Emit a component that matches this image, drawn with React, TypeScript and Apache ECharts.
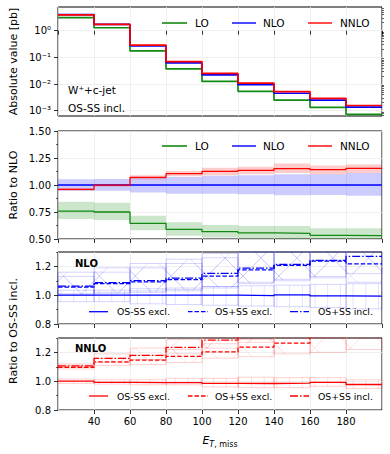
import React, { useEffect, useRef } from 'react';
import * as echarts from 'echarts';

// ---------- data ----------
const binEdges = [20, 40, 60, 80, 100, 120, 140, 160, 180, 200];
const logTickExponents = [-3, -2, -1, 0];
const logTickLabels = ['10⁻³', '10⁻²', '10⁻¹', '10⁰'];
const osTicks = [0.8, 1.0, 1.2];

// Panel 1: absolute values [pb]
const absLO = [3.1, 1.29, 0.175, 0.037, 0.0125, 0.0053, 0.0025, 0.00133, 0.00072];
const absNLO = [4.05, 1.72, 0.27, 0.062, 0.022, 0.0095, 0.0045, 0.0025, 0.00135];
const absNNLO = [3.9, 1.72, 0.29, 0.069, 0.025, 0.0108, 0.0052, 0.0029, 0.00156];

// Panel 2: ratio to NLO
const ratioLO = [0.759, 0.75, 0.645, 0.59, 0.568, 0.556, 0.553, 0.534, 0.531];
const ratioNLO = [1, 1, 1, 1, 1, 1, 1, 1, 1];
const ratioNNLO = [0.96, 0.998, 1.071, 1.105, 1.127, 1.136, 1.151, 1.142, 1.154];
const bandLOLo = [0.685, 0.675, 0.58, 0.53, 0.515, 0.505, 0.5, 0.49, 0.49];
const bandLOHi = [0.845, 0.835, 0.715, 0.655, 0.63, 0.62, 0.62, 0.6, 0.6];
const bandNLOLo = [0.947, 0.947, 0.93, 0.92, 0.92, 0.914, 0.905, 0.908, 0.9];
const bandNLOHi = [1.053, 1.055, 1.065, 1.075, 1.085, 1.09, 1.1, 1.1, 1.11];
const bandNNLOLo = [0.95, 0.985, 1.05, 1.08, 1.09, 1.1, 1.11, 1.1, 1.11];
const bandNNLOHi = [0.97, 1.01, 1.09, 1.13, 1.16, 1.17, 1.2, 1.18, 1.19];

// Panel 3: NLO ratio to OS-SS incl.
const nloOSmSSExcl = [1.0, 1.0, 1.0, 1.0, 1.0, 0.997, 1.002, 0.995, 0.993];
const nloOSpSSExcl = [1.056, 1.08, 1.092, 1.108, 1.133, 1.176, 1.207, 1.237, 1.218];
const nloOSpSSIncl = [1.063, 1.087, 1.101, 1.118, 1.152, 1.188, 1.214, 1.242, 1.27];
const nloOSmSSExclLo = [0.955, 0.955, 0.94, 0.935, 0.93, 0.925, 0.92, 0.915, 0.905];
const nloOSmSSExclHi = [1.035, 1.035, 1.045, 1.05, 1.06, 1.065, 1.07, 1.075, 1.08];
const nloOSpSSExclLo = [1.0, 1.01, 1.02, 1.03, 1.05, 1.08, 1.1, 1.12, 1.09];
const nloOSpSSExclHi = [1.13, 1.16, 1.19, 1.22, 1.26, 1.3, 1.33, 1.36, 1.34];
const nloOSpSSInclLo = [1.01, 1.02, 1.03, 1.04, 1.06, 1.09, 1.11, 1.13, 1.15];
const nloOSpSSInclHi = [1.16, 1.19, 1.22, 1.25, 1.29, 1.33, 1.36, 1.39, 1.42];

// Panel 4: NNLO ratio to OS-SS incl.
const nnloOSmSSExcl = [1.0, 0.992, 0.99, 0.99, 0.985, 0.984, 0.986, 0.992, 0.977];
const nnloOSpSSExcl = [1.097, 1.134, 1.146, 1.172, 1.203, 1.237, 1.265, 1.31, 1.33];
const nnloOSpSSIncl = [1.106, 1.158, 1.18, 1.235, 1.285, 1.33, 1.36, 1.39, 1.42];
const nnloOSmSSExclLo = [0.985, 0.98, 0.975, 0.975, 0.96, 0.955, 0.955, 0.965, 0.95];
const nnloOSmSSExclHi = [1.015, 1.01, 1.01, 1.02, 1.02, 1.028, 1.025, 1.025, 1.01];
const nnloOSpSSExclLo = [1.085, 1.11, 1.115, 1.13, 1.16, 1.17, 1.19, 1.2, 1.22];
const nnloOSpSSExclHi = [1.11, 1.16, 1.18, 1.22, 1.26, 1.29, 1.33, 1.38, 1.41];
const nnloOSpSSInclLo = [1.095, 1.13, 1.15, 1.19, 1.23, 1.27, 1.3, 1.33, 1.35];
const nnloOSpSSInclHi = [1.12, 1.19, 1.23, 1.29, 1.35, 1.39, 1.43, 1.46, 1.5];

// ---------- styling ----------
const FONT = 'DejaVu Sans';
const GREEN = '#118a11';
const BLUE = '#0000ff';
const RED = '#ff0000';
const DASH = [4.5, 2];
const DASHDOT = [8, 2, 1.5, 2];
const LOG_MIN = -3.2;
const LOG_MAX = 0.89;

const stepData = (vals: number[]) =>
  binEdges.map((x, i) => [x, vals[Math.min(i, vals.length - 1)]]);
const bandData = (lo: number[], hi: number[]) =>
  lo.map((l, i) => [binEdges[i], binEdges[i + 1], l, hi[i]]);

function clampBox(params: any, api: any) {
  const cs = params.coordSys;
  const a = api.coord([api.value(0), api.value(3)]);
  const b = api.coord([api.value(1), api.value(2)]);
  const x0 = Math.min(a[0], b[0]);
  const x1 = Math.max(a[0], b[0]);
  const y0 = Math.max(Math.min(a[1], b[1]), cs.y);
  const y1 = Math.min(Math.max(a[1], b[1]), cs.y + cs.height);
  return { x0, x1, y0, y1 };
}

const fillRenderer = (color: string) => (params: any, api: any) => {
  const { x0, x1, y0, y1 } = clampBox(params, api);
  if (y1 <= y0) return { type: 'group', children: [] };
  return {
    type: 'rect',
    shape: { x: x0, y: y0, width: x1 - x0, height: y1 - y0 },
    style: { fill: color },
  };
};

const hatchRenderer = (kind: string, color: string, edge: string) => (params: any, api: any) => {
  const { x0, x1, y0, y1 } = clampBox(params, api);
  if (y1 <= y0) return { type: 'group', children: [] };
  const seg = (ax: number, ay: number, bx: number, by: number) => ({
    type: 'line',
    shape: { x1: ax, y1: ay, x2: bx, y2: by },
    style: { stroke: color, lineWidth: 0.9 },
  });
  const children: any[] = [
    {
      type: 'rect',
      shape: { x: x0, y: y0, width: x1 - x0, height: y1 - y0 },
      style: { fill: 'none', stroke: edge, lineWidth: 1 },
    },
  ];
  if (kind === '|') {
    const s = 12.7;
    const off = 10.2;
    for (let x = off + Math.ceil((x0 - off) / s) * s; x < x1; x += s) {
      if (x > x0 + 0.5) children.push(seg(x, y0, x, y1));
    }
  } else {
    const P = 35.9;
    const offA = 16.3;
    const offB = 33;
    for (let c = offA + Math.ceil((x0 + y0 - offA) / P) * P; c <= x1 + y1; c += P) {
      const xs = Math.max(x0, c - y1);
      const xe = Math.min(x1, c - y0);
      if (xe > xs) children.push(seg(xs, c - xs, xe, c - xe));
    }
    for (let c = offB + Math.ceil((y0 - x1 - offB) / P) * P; c <= y1 - x0; c += P) {
      const xs = Math.max(x0, y0 - c);
      const xe = Math.min(x1, y1 - c);
      if (xe > xs) children.push(seg(xs, xs + c, xe, xe + c));
    }
  }
  return { type: 'group', children };
};

function lineSeries(name: string, vals: number[], grid: number, color: string, width: number, dash?: number[], z = 5) {
  return {
    name,
    type: 'line',
    xAxisIndex: grid,
    yAxisIndex: grid,
    step: 'end',
    data: stepData(vals),
    symbol: 'none',
    showSymbol: false,
    silent: true,
    z,
    lineStyle: { color, width, type: dash ? dash : 'solid' },
    itemStyle: { color },
  };
}

function bandSeries(lo: number[], hi: number[], grid: number, renderItem: any, z = 2) {
  return {
    type: 'custom',
    xAxisIndex: grid,
    yAxisIndex: grid,
    data: bandData(lo, hi),
    renderItem,
    encode: { x: [0, 1], y: [2, 3] },
    silent: true,
    z,
  };
}

function text(str: string, x: number, y: number, size: number, opts: any = {}) {
  return {
    type: 'text',
    x,
    y,
    rotation: opts.rotation || 0,
    silent: true,
    z: 100,
    style: {
      text: str,
      fill: '#000',
      fontSize: size,
      fontFamily: FONT,
      fontWeight: opts.weight || 'normal',
      align: opts.align || 'left',
      verticalAlign: 'middle',
      textAlign: opts.align || 'left',
      textVerticalAlign: 'middle',
    },
  };
}

function legendItems(items: any[], y: number, size: number, lw: number) {
  const out: any[] = [];
  items.forEach((it) => {
    out.push({
      type: 'line',
      silent: true,
      z: 100,
      shape: { x1: it.x1, y1: y, x2: it.x2, y2: y },
      style: { stroke: it.color, lineWidth: lw, lineDash: it.dash || null, opacity: it.opacity || 1 },
    });
    out.push(text(it.label, it.tx, y, size));
  });
  return out;
}

function buildOption() {
  const tick = { show: true, length: 4, lineStyle: { color: '#000', width: 0.8 } };
  const split = { show: true, lineStyle: { color: '#ebebeb', width: 0.8 } };
  const label = { color: '#000', fontSize: 10, fontFamily: FONT, margin: 7 };
  const minor = { show: true, splitNumber: 2, length: 2, lineStyle: { color: '#000', width: 0.6 } };

  const minorLog: number[] = [];
  for (let n = -4; n <= 0; n++) {
    for (let k = 2; k <= 9; k++) {
      const v = Math.log10(k * Math.pow(10, n));
      if (v > LOG_MIN && v < LOG_MAX) minorLog.push(v);
    }
  }

  const grids = [
    { top: 7, height: 109 },
    { top: 131, height: 108 },
    { top: 252, height: 72 },
    { top: 338, height: 72 },
  ].map((g) => ({
    left: 58,
    right: 8,
    top: g.top,
    height: g.height,
    show: true,
    borderColor: '#000',
    borderWidth: 1,
    backgroundColor: 'transparent',
    containLabel: false,
    outerBoundsMode: 'none',
  }));

  const xAxis = [0, 1, 2, 3].map((i) => ({
    gridIndex: i,
    type: 'value',
    min: 20,
    max: 200,
    interval: 20,
    axisLine: { show: false },
    axisTick: tick,
    splitLine: split,
    axisLabel:
      i === 3
        ? { ...label, margin: 6, showMinLabel: false, showMaxLabel: false }
        : { show: false },
    ...(i === 3
      ? {
          name: '{e|E}{t|T}{s|, miss}',
          nameLocation: 'middle',
          nameGap: 22,
          nameTextStyle: {
            color: '#000',
            rich: {
              e: { fontSize: 11, fontStyle: 'italic', fontFamily: FONT, lineHeight: 16, color: '#000' },
              t: { fontSize: 8, fontStyle: 'italic', fontFamily: FONT, lineHeight: 9, verticalAlign: 'bottom', color: '#000' },
              s: { fontSize: 8, fontFamily: FONT, lineHeight: 9, verticalAlign: 'bottom', color: '#000' },
            },
          },
        }
      : {}),
  }));

  const yAxis = [
    {
      gridIndex: 0,
      type: 'value',
      min: LOG_MIN,
      max: LOG_MAX,
      axisLine: { show: false },
      axisTick: { ...tick, customValues: logTickExponents },
      axisLabel: {
        ...label,
        customValues: logTickExponents,
        formatter: (v: number) => logTickLabels[logTickExponents.indexOf(Math.round(v))] || '',
      },
      splitLine: split,
    },
    {
      gridIndex: 1,
      type: 'value',
      min: 0.5,
      max: 1.5,
      interval: 0.25,
      axisLine: { show: false },
      axisTick: tick,
      minorTick: minor,
      axisLabel: { ...label, formatter: (v: number) => v.toFixed(2) },
      splitLine: split,
    },
    ...[2, 3].map((g) => ({
      gridIndex: g,
      type: 'value',
      min: 0.8,
      max: 1.3,
      interval: 0.2,
      axisLine: { show: false },
      axisTick: { ...tick, customValues: osTicks },
      minorTick: minor,
      axisLabel: { ...label, customValues: osTicks, formatter: (v: number) => v.toFixed(1) },
      splitLine: split,
    })),
    {
      gridIndex: 0,
      type: 'value',
      min: LOG_MIN,
      max: LOG_MAX,
      axisLine: { show: false },
      axisLabel: { show: false },
      axisTick: { show: true, length: 2, customValues: minorLog, lineStyle: { color: '#000', width: 0.6 } },
      splitLine: { show: false },
    },
  ];

  const hb = 'rgba(0,0,255,0.13)';
  const hbEdge = 'rgba(0,0,255,0.17)';
  const hr = 'rgba(255,0,0,0.14)';
  const hrEdge = 'rgba(255,0,0,0.18)';

  const series: any[] = [
    // panel 1
    lineSeries('LO', absLO.map(Math.log10), 0, GREEN, 1.7, undefined, 5),
    lineSeries('NLO', absNLO.map(Math.log10), 0, BLUE, 1.7, undefined, 6),
    lineSeries('NNLO', absNNLO.map(Math.log10), 0, RED, 1.7, undefined, 7),
    // panel 2
    bandSeries(bandLOLo, bandLOHi, 1, fillRenderer('rgba(0,128,0,0.2)')),
    bandSeries(bandNLOLo, bandNLOHi, 1, fillRenderer('rgba(0,0,255,0.2)')),
    bandSeries(bandNNLOLo, bandNNLOHi, 1, fillRenderer('rgba(255,0,0,0.2)')),
    lineSeries('LO ratio', ratioLO, 1, GREEN, 1.3),
    lineSeries('NLO ratio', ratioNLO, 1, BLUE, 1.3),
    lineSeries('NNLO ratio', ratioNNLO, 1, RED, 1.3),
    // panel 3
    bandSeries(nloOSmSSExclLo, nloOSmSSExclHi, 2, hatchRenderer('|', hb, hbEdge)),
    bandSeries(nloOSpSSExclLo, nloOSpSSExclHi, 2, hatchRenderer('x', hb, hbEdge)),
    bandSeries(nloOSpSSInclLo, nloOSpSSInclHi, 2, hatchRenderer('x', hb, hbEdge)),
    lineSeries('NLO OS-SS excl.', nloOSmSSExcl, 2, BLUE, 1.3),
    lineSeries('NLO OS+SS excl.', nloOSpSSExcl, 2, BLUE, 1.3, DASH),
    lineSeries('NLO OS+SS incl.', nloOSpSSIncl, 2, BLUE, 1.3, DASHDOT),
    // panel 4
    bandSeries(nnloOSmSSExclLo, nnloOSmSSExclHi, 3, hatchRenderer('|', hr, hrEdge)),
    bandSeries(nnloOSpSSExclLo, nnloOSpSSExclHi, 3, hatchRenderer('x', hr, hrEdge)),
    bandSeries(nnloOSpSSInclLo, nnloOSpSSInclHi, 3, hatchRenderer('x', hr, hrEdge)),
    lineSeries('NNLO OS-SS excl.', nnloOSmSSExcl, 3, RED, 1.3),
    lineSeries('NNLO OS+SS excl.', nnloOSpSSExcl, 3, RED, 1.3, DASH),
    lineSeries('NNLO OS+SS incl.', nnloOSpSSIncl, 3, RED, 1.3, DASHDOT),
  ];

  const topLegend = (y: number) =>
    legendItems(
      [
        { x1: 162, x2: 187, tx: 195, label: 'LO', color: GREEN, opacity: 0.8 },
        { x1: 232, x2: 256, tx: 263, label: 'NLO', color: BLUE, opacity: 0.7 },
        { x1: 308, x2: 332, tx: 340, label: 'NNLO', color: RED, opacity: 0.7 },
      ],
      y,
      10.5,
      2
    );
  const osLegend = (y: number, color: string) =>
    legendItems(
      [
        { x1: 89, x2: 108, tx: 117, label: 'OS-SS excl.', color },
        { x1: 188, x2: 208, tx: 215, label: 'OS+SS excl.', color, dash: DASH },
        { x1: 290, x2: 309, tx: 318, label: 'OS+SS incl.', color, dash: DASHDOT },
      ],
      y,
      9.3,
      1.3
    );

  const graphic: any[] = [
    text('Absolute value [pb]', 13, 61.5, 11, { rotation: Math.PI / 2, align: 'center' }),
    text('Ratio to NLO', 13, 185, 11, { rotation: Math.PI / 2, align: 'center' }),
    text('Ratio to OS-SS incl.', 13, 331, 11, { rotation: Math.PI / 2, align: 'center' }),
    text('W⁺+c-jet', 68, 90, 10.5),
    text('OS-SS incl.', 68, 107.5, 10.5),
    text('NLO', 75, 263, 10, { weight: 'bold' }),
    text('NNLO', 75, 348.5, 10, { weight: 'bold' }),
    ...topLegend(23),
    ...topLegend(146),
    ...osLegend(311.7, BLUE),
    ...osLegend(396, RED),
  ];

  return {
    animation: false,
    backgroundColor: '#ffffff',
    textStyle: { fontFamily: FONT },
    grid: grids,
    xAxis,
    yAxis,
    series,
    graphic,
  };
}

export default function App() {
  const ref = useRef<HTMLDivElement>(null);
  useEffect(() => {
    if (!ref.current) return;
    const chart = echarts.init(ref.current, null, { renderer: 'svg' });
    chart.setOption(buildOption() as any);
    return () => chart.dispose();
  }, []);
  return (
    <div
      ref={ref}
      style={{ position: 'fixed', left: 0, top: 0, width: 390, height: 454, background: '#fff' }}
    />
  );
}
